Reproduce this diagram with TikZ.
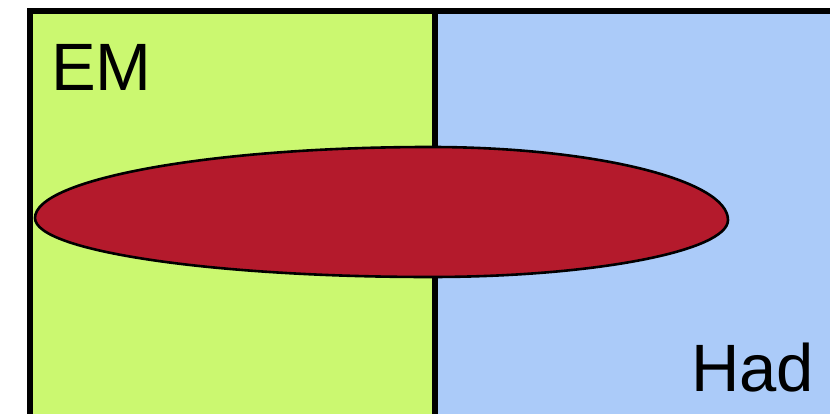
\documentclass[tikz,border=0pt]{standalone}
\usepackage{fontspec}
\setmainfont{Liberation Sans}
\definecolor{emgreen}{HTML}{CBF870}
\definecolor{hadblue}{HTML}{ABCBF9}
\definecolor{blobred}{HTML}{B41A2C}
\tikzset{
  region/.style={draw=black, line width=6pt},
  blob/.style={draw=black, line width=2.6pt, fill=blobred},
  lbl/.style={anchor=base west, inner sep=0pt, font=\fontsize{67}{67}\selectfont}
}
\begin{document}
\begin{tikzpicture}[x=1pt,y=-1pt]
\useasboundingbox (0,0) rectangle (830,414);
\clip (0,0) rectangle (830,414);
\fill[white] (0,0) rectangle (830,414);
\filldraw[region, fill=emgreen] (30,11) rectangle (434.5,440);
\filldraw[region, fill=hadblue] (434.5,11) rectangle (860,440);
\coordinate (L) at (35,218);
\coordinate (T) at (430,147);
\coordinate (R) at (728,220);
\coordinate (B) at (430,277);
\path[blob] (L) .. controls (35,179) and (212,147) .. (T)
  .. controls (594,147) and (728,180) .. (R)
  .. controls (728,251) and (594,277) .. (B)
  .. controls (212,277) and (35,251) .. (L) -- cycle;
\node[lbl] (em) at (51,91) {EM};
\node[lbl] (had) at (691,391) {Had};
\end{tikzpicture}
\end{document}
